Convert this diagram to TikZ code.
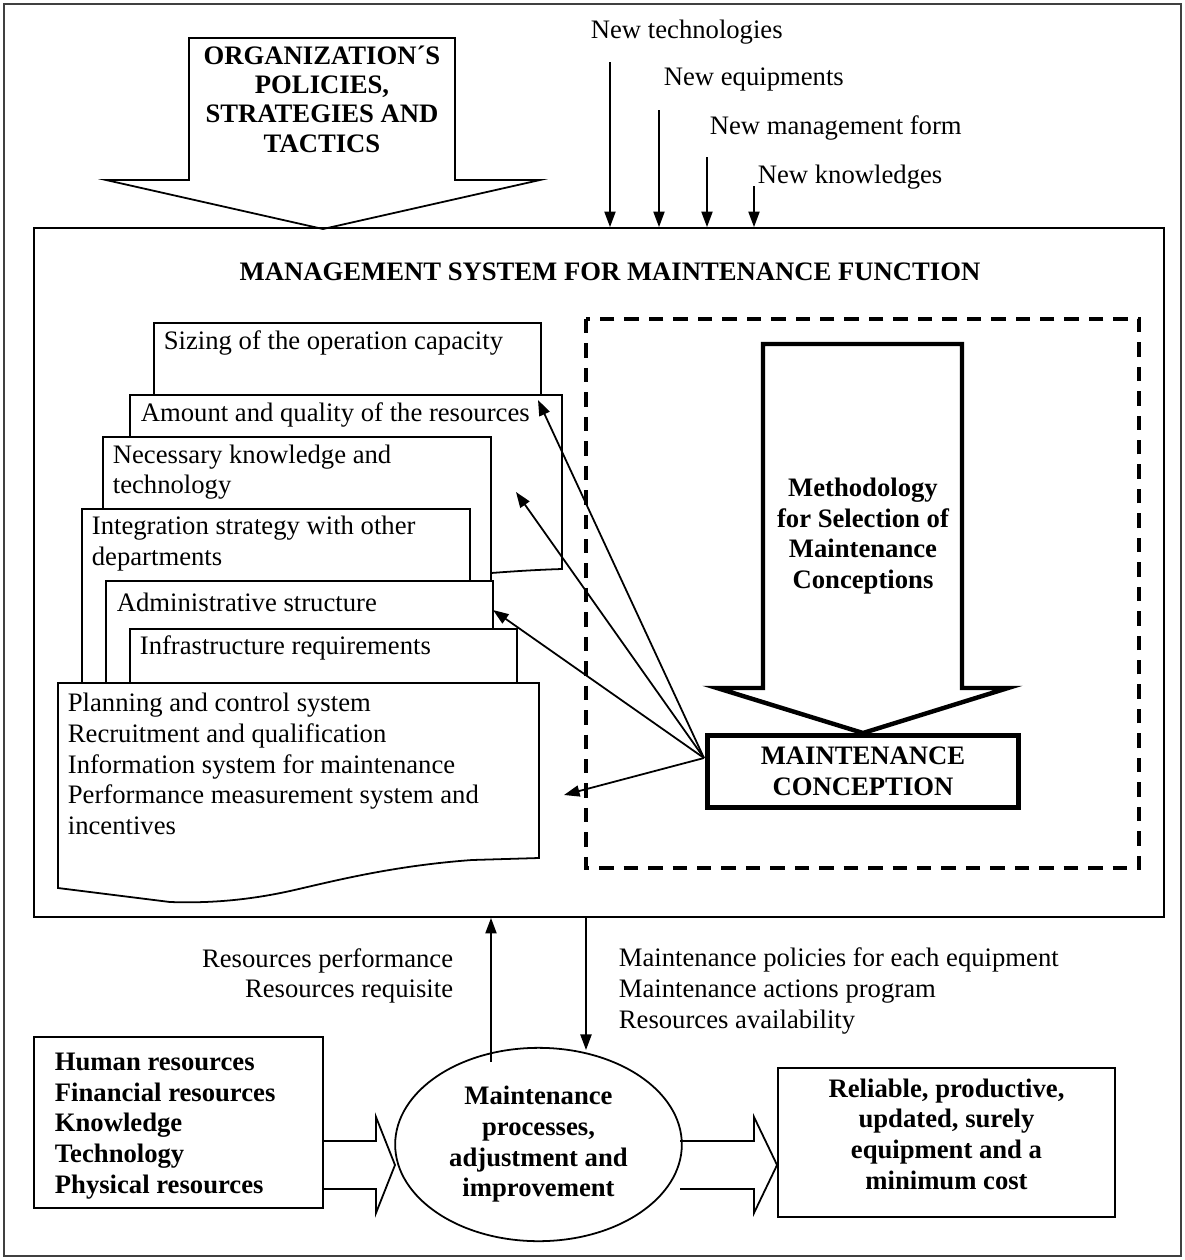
\documentclass[tikz,border=0pt]{standalone}
\usepackage{fontspec}
\setmainfont{Liberation Serif}
\usepackage{tikz}
\usetikzlibrary{arrows.meta,shapes.geometric,fit}

\begin{document}
\begin{tikzpicture}[x=0.45pt,y=-0.45pt,line width=0.8pt,
    every node/.style={font=\fontsize{12}{13.8}\selectfont, inner sep=0pt},
    arr/.style={-{Triangle[length=7pt,width=5pt]}},
    sheet/.style={draw, fill=white},
    boldtxt/.style={font=\fontsize{12}{13.8}\selectfont\bfseries, align=center}]
        \useasboundingbox (0,0) rectangle (1185,1260);
        % Outer frame
        \draw[line width=1.2pt, black!75] (4,4) rectangle (1181,1256);

        % Organization policies block arrow
        \draw[sheet] (189,38) -- (455,38) -- (455,180) -- (540,180) -- (323,229) -- (106,180) -- (189,180) -- cycle;
        \node[boldtxt, font=\fontsize{12}{13.2}\selectfont\bfseries] (org) at (322,99) {ORGANIZATION´S\\POLICIES,\\STRATEGIES AND\\TACTICS};

        % Management system box
        \coordinate (mainNW) at (34,228);
        \coordinate (mainSE) at (1164,917);
        \node[draw, fit=(mainNW)(mainSE)] (main) {};
        \node[boldtxt] (title) at (610,272) {MANAGEMENT SYSTEM FOR MAINTENANCE FUNCTION};

        % New inputs from above
        \coordinate (tech) at (610,62);
        \coordinate (equip) at (659,110);
        \coordinate (mgmt) at (707,157);
        \coordinate (know) at (754,186);
        \draw[arr] (tech) -- (tech |- main.north);
        \draw[arr] (equip) -- (equip |- main.north);
        \draw[arr] (mgmt) -- (mgmt |- main.north);
        \draw[arr] (know) -- (know |- main.north);
        \node[anchor=west] (techlbl) at (590,32) {New technologies};
        \node[anchor=west] (equiplbl) at (663,80) {New equipments};
        \node[anchor=west] (mgmtlbl) at (709,128) {New management form};
        \node[anchor=west] (knowlbl) at (757,177) {New knowledges};

        % Stack of sheets
        \draw[sheet] (154,323) rectangle (541,395);
        \node[anchor=west] (sizing) at (163,343) {Sizing of the operation capacity};
        \draw[sheet] (130,395) -- (562,395) -- (562,569) .. controls (530,570) and (505,572) .. (491,573) -- (130,576) -- cycle;
        \node[anchor=west] (amount) at (140,415) {Amount and quality of the resources};
        \draw[sheet] (103,437) rectangle (491,600);
        \node[anchor=west, align=left] (knowledge) at (112,472) {Necessary knowledge and\\technology};
        \draw[sheet] (82,509) rectangle (470,700);
        \node[anchor=west, align=left] (integration) at (91,543.5) {Integration strategy with other\\departments};
        \draw[sheet] (106,581) rectangle (493,700);
        \node[anchor=west] (admin) at (116,602) {Administrative structure};
        \draw[sheet] (130,629) rectangle (517,700);
        \node[anchor=west] (infra) at (139,648) {Infrastructure requirements};
        \draw[sheet] (58,683) -- (539,683) -- (539,858) -- (472,860) .. controls (390,866) and (330,882) .. (290,891) .. controls (240,902) and (200,903) .. (170,902) -- (58,888) -- cycle;
        \node[anchor=west, align=left] (planning) at (67,764) {Planning and control system\\Recruitment and qualification\\Information system for maintenance\\Performance measurement system and\\incentives};

        % Methodology area
        \draw[line width=1.4pt, dash pattern=on 6.5pt off 4.5pt] (586,319) rectangle (1139,868);
        \draw[line width=2pt, fill=white] (763,344) -- (962,344) -- (962,688) -- (1008,688) -- (863,733) -- (717,688) -- (763,688) -- cycle;
        \node[boldtxt] (method) at (863,536) {Methodology\\for Selection of\\Maintenance\\Conceptions};
        \node[draw, line width=2pt, boldtxt, minimum width=140pt, minimum height=32.5pt] (concept) at (863,771.5) {MAINTENANCE\\CONCEPTION};

        % Fan of arrows to the sheets
        \coordinate (fan) at (704,758);
        \coordinate (toSizing) at (538,400);
        \coordinate (toKnow) at (516,492);
        \coordinate (toAdmin) at (493,610);
        \coordinate (toPlan) at (564,795);
        \foreach \t in {toSizing,toKnow,toAdmin,toPlan}
            \draw[arr] (fan) -- (\t);

        % Feedback between system and processes
        \coordinate (upFoot) at (491,1062);
        \coordinate (downFoot) at (586,1050);
        \draw[arr] (upFoot) -- (upFoot |- main.south);
        \draw[arr] (downFoot |- main.south) -- (downFoot);
        \node[anchor=east, align=right] (feedback) at (454,976) {Resources performance\\Resources requisite};
        \node[anchor=west, align=left] (outputs) at (618,991) {Maintenance policies for each equipment\\Maintenance actions program\\Resources availability};

        % Inputs, processes, results
        \node[draw, minimum width=130pt, minimum height=77pt] (inputs) at (178.5,1122.5) {};
        \node[boldtxt, align=left, anchor=west] (inputstxt) at (54,1126) {Human resources\\Financial resources\\Knowledge\\Technology\\Physical resources};
        \node[draw, ellipse, boldtxt, minimum width=129pt, minimum height=87pt] (proc) at (538.5,1144.5) {Maintenance\\processes,\\adjustment and\\improvement};
        \node[draw, minimum width=151.7pt, minimum height=67pt] (result) at (946.5,1142.5) {};
        \node[boldtxt] (resulttxt) at (946.5,1134) {Reliable, productive,\\updated, surely\\equipment and a\\minimum cost};

        % Block arrows
        \draw (inputs.east |- 0,1141) -- (376,1141) -- (376,1117) -- (395,1165) -- (376,1213) -- (376,1189) -- (inputs.east |- 0,1189);
        \draw (680,1141) -- (754,1141) -- (754,1117) -- (result.west |- 0,1165) -- (754,1213) -- (754,1189) -- (680,1189);
    \end{tikzpicture}
\end{document}
